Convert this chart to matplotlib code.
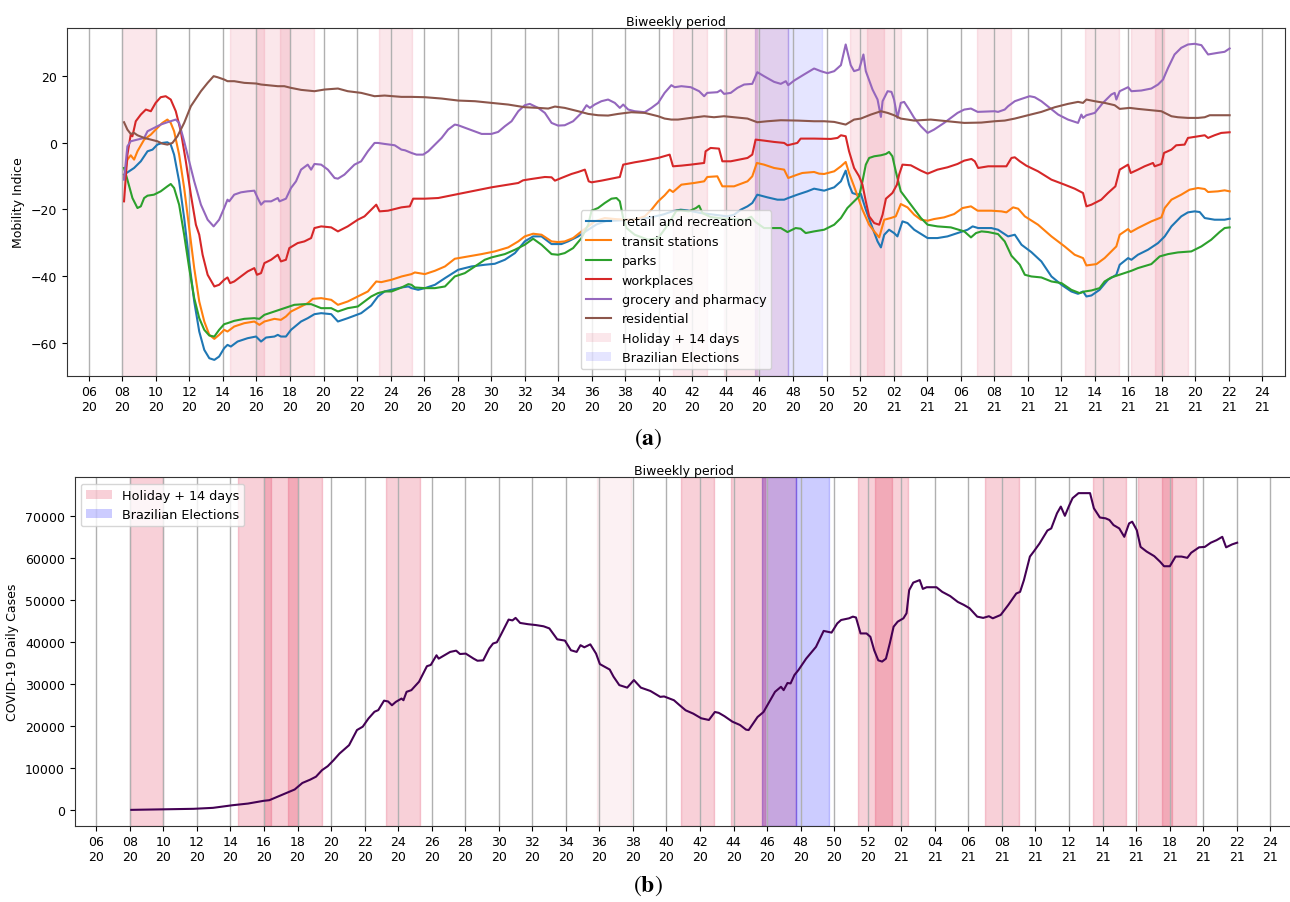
import matplotlib
matplotlib.use("Agg")
import matplotlib.pyplot as plt
from matplotlib.patches import Patch

# ---------------- data (x = days after the 06/20 tick) ----------------
tick_labels = ["06\n20", "08\n20", "10\n20", "12\n20", "14\n20", "16\n20", "18\n20", "20\n20",
               "22\n20", "24\n20", "26\n20", "28\n20", "30\n20", "32\n20", "34\n20", "36\n20",
               "38\n20", "40\n20", "42\n20", "44\n20", "46\n20", "48\n20", "50\n20", "52\n20",
               "02\n21", "04\n21", "06\n21", "08\n21", "10\n21", "12\n21", "14\n21", "16\n21",
               "18\n21", "20\n21", "22\n21", "24\n21"]
tick_days = [14 * i for i in range(len(tick_labels))]

holiday_starts = [14, 59, 70, 80, 121, 244, 265, 278, 318, 325, 371, 416, 435, 445]
minor_holiday_starts = [209]
election_starts = [278, 292]
span_length = 14

retail = [(14.7,-9.6),(16.8,-8.6),(18.9,-7.6),(21.7,-5.6),(24.5,-2.6),(26.6,-2.1),(28.6,-0.6),(30.7,-0.1),
          (32.8,0.1),(34.2,-0.6),(35.6,-3.6),(37.7,-11.6),(39.8,-22.6),(41.9,-35.6),(44.0,-47.6),(46.1,-56.6),
          (48.2,-62.1),(50.3,-64.6),(52.4,-65.1),(54.4,-64.1),(56.5,-61.6),(57.9,-60.6),(59.3,-61.1),(62.1,-59.6),
          (66.3,-58.6),(69.8,-58.1),(71.9,-59.6),(74.0,-58.4),(77.5,-58.1),(78.9,-57.6),(80.2,-58.1),(82.3,-58.1),
          (84.4,-56.1),(88.6,-53.6),(91.4,-52.6),(94.2,-51.4),(97.0,-51.1),(101.2,-51.4),(104.0,-53.6),(108.1,-52.6),
          (113.7,-51.1),(117.9,-48.8),(120.7,-46.1),(123.5,-44.6),(126.3,-44.1),(130.6,-43.4),(133.4,-43.1),
          (134.7,-43.6),(137.5,-44.1),(140.3,-43.6),(144.5,-42.6),(148.7,-40.6),(154.2,-38.1),(159.8,-37.1),
          (165.3,-36.6),(169.5,-36.3),(173.7,-35.1),(177.9,-33.1),(182.0,-29.6),(185.5,-28.1),(189.0,-28.1),
          (193.2,-30.4),(197.3,-30.4),(200.1,-29.6),(204.3,-28.1),(208.5,-26.1),(212.0,-24.5),(216.0,-23.5),
          (222.0,-23.3),(228.0,-23.0),(234.0,-22.5),(240.0,-21.5),(244.0,-20.5),(247.1,-20.1),(249.9,-20.3),
          (255.5,-21.1),(261.0,-21.6),(266.6,-22.1),(269.4,-21.6),(272.2,-20.1),(275.0,-19.1),(277.0,-18.1),
          (279.1,-15.6),(283.3,-16.4),(287.5,-17.1),(290.3,-17.1),(292.0,-16.6),(295.8,-15.6),(300.0,-14.6),
          (302.8,-13.8),(307.0,-14.4),(311.2,-13.4),(314.0,-11.6),(316.0,-8.4),(317.4,-12.6),(318.8,-15.1),
          (320.9,-15.6),(322.3,-15.3),(324.4,-20.1),(327.2,-25.6),(329.3,-29.6),(330.7,-31.4),(332.1,-27.6),
          (334.1,-26.1),(336.2,-27.1),(337.6,-28.1),(339.7,-23.6),(341.8,-24.1),(344.6,-26.1),(350.2,-28.6),
          (354.3,-28.6),(358.5,-28.1),(362.7,-27.1),(366.9,-26.1),(369.0,-25.1),(371.3,-25.6),(376.8,-25.6),
          (379.6,-26.1),(383.8,-28.1),(386.6,-27.6),(389.4,-30.6),(393.5,-32.8),(397.7,-35.6),(401.9,-40.1),
          (406.1,-42.6),(410.2,-44.6),(413.0,-45.3),(415.1,-44.6),(416.5,-46.1),(418.6,-45.8),(422.0,-44.1),
          (425.5,-41.1),(429.0,-39.6),(430.4,-36.6),(433.9,-34.6),(435.3,-35.1),(438.0,-33.6),(442.2,-32.1),
          (446.4,-30.1),(449.2,-28.1),(452.0,-25.1),(456.1,-22.1),(458.9,-20.9),(461.7,-20.6),(463.8,-20.8),
          (465.9,-22.6),(470.0,-23.1),(474.2,-23.1),(476.3,-22.8)]

transit = [(14.7,-10.5),(16.1,-5.1),(17.5,-3.8),(18.9,-5.1),(20.3,-2.6),(23.1,0.9),(25.9,2.4),(28.6,4.4),
           (30.7,5.9),(32.8,6.9),(34.2,5.9),(35.6,3.4),(37.7,-3.6),(39.8,-13.6),(41.9,-25.6),(44.0,-37.6),
           (46.1,-47.6),(48.2,-53.6),(50.3,-57.6),(52.4,-58.8),(54.4,-57.6),(56.5,-56.1),(57.9,-56.6),(60.7,-55.1),
           (64.9,-54.1),(69.1,-53.6),(71.2,-54.6),(73.3,-53.6),(77.5,-52.8),(80.2,-53.1),(82.3,-52.1),(84.4,-50.6),
           (88.6,-49.1),(91.4,-48.1),(93.5,-46.8),(97.0,-46.6),(101.2,-47.1),(104.0,-48.6),(108.1,-47.6),
           (112.3,-46.1),(116.5,-44.6),(120.0,-41.6),(122.1,-41.8),(126.3,-41.1),(130.6,-40.1),(134.7,-39.4),
           (136.1,-38.9),(140.3,-39.4),(144.5,-38.4),(148.7,-37.1),(152.8,-34.8),(158.4,-34.1),(164.0,-33.4),
           (169.5,-32.6),(175.1,-31.4),(179.3,-29.6),(182.0,-28.1),(185.5,-27.3),(189.0,-27.6),(193.2,-29.6),
           (195.9,-29.8),(198.7,-29.6),(202.2,-28.6),(205.7,-26.6),(208.5,-25.1),(211.2,-23.6),(215.4,-22.6),
           (219.6,-22.9),(223.8,-23.1),(227.9,-23.1),(232.1,-22.1),(234.9,-20.1),(237.7,-17.6),(240.4,-15.8),
           (242.5,-14.1),(243.9,-14.8),(247.4,-12.6),(252.7,-12.1),(256.9,-11.6),(258.2,-10.3),(262.4,-10.1),
           (264.5,-13.1),(269.4,-13.1),(275.0,-11.6),(277.0,-10.1),(278.9,-6.1),(281.9,-6.6),(286.1,-7.6),
           (290.3,-8.1),(292.0,-10.6),(295.8,-9.6),(297.9,-9.1),(302.8,-8.8),(304.9,-9.3),(307.0,-9.4),
           (311.2,-8.6),(314.0,-7.1),(316.0,-5.8),(317.4,-9.1),(319.5,-13.1),(323.0,-20.1),(325.8,-24.6),
           (327.9,-26.6),(330.0,-28.4),(332.1,-23.1),(334.8,-22.6),(336.9,-22.1),(339.0,-18.4),(341.8,-19.4),
           (344.6,-21.6),(347.4,-23.1),(350.2,-23.4),(352.9,-22.9),(357.1,-22.4),(361.3,-21.4),(364.8,-19.6),
           (368.3,-19.1),(371.1,-20.4),(376.8,-20.4),(381.0,-20.6),(383.1,-20.9),(385.9,-19.4),(388.0,-19.8),
           (390.8,-22.1),(396.3,-24.6),(401.9,-28.1),(407.4,-31.1),(411.6,-33.6),(415.1,-34.6),(416.5,-36.8),
           (420.7,-36.4),(424.1,-34.6),(426.9,-32.6),(429.0,-31.1),(430.4,-27.6),(433.9,-25.9),(435.0,-26.8),
           (438.0,-25.6),(443.6,-23.6),(447.8,-22.4),(449.2,-19.6),(452.0,-17.1),(456.1,-15.6),(459.6,-14.1),
           (463.1,-13.6),(465.9,-13.9),(467.3,-14.8),(471.4,-14.6),(474.2,-14.3),(476.3,-14.6)]

parks = [(14.7,-7.6),(16.1,-11.1),(18.2,-16.6),(20.3,-19.6),(21.7,-19.1),(23.1,-16.6),(24.5,-15.9),(27.2,-15.6),
         (30.0,-14.6),(32.8,-13.1),(34.2,-12.4),(35.6,-13.6),(37.7,-18.6),(39.8,-27.6),(41.9,-37.6),(44.0,-46.6),
         (46.1,-52.6),(48.2,-56.1),(50.3,-57.8),(52.4,-58.1),(54.4,-56.1),(56.5,-54.4),(57.9,-54.1),(60.7,-53.4),
         (64.9,-52.8),(69.1,-52.6),(71.2,-52.8),(73.3,-51.6),(77.5,-50.6),(81.6,-49.6),(85.8,-48.6),(90.0,-48.4),
         (92.8,-48.4),(97.0,-49.6),(101.2,-49.6),(104.0,-50.6),(108.1,-49.6),(112.3,-49.1),(115.1,-47.6),
         (117.9,-46.1),(120.7,-45.1),(123.5,-44.6),(126.4,-44.6),(130.6,-43.4),(133.4,-42.4),(134.7,-42.6),
         (136.1,-43.4),(140.3,-43.6),(144.5,-43.6),(148.7,-43.1),(152.8,-40.1),(157.0,-39.1),(161.2,-37.1),
         (165.3,-35.1),(168.1,-34.4),(173.7,-33.4),(177.9,-32.1),(182.0,-30.6),(185.5,-28.8),(189.0,-30.6),
         (193.2,-33.4),(195.9,-33.6),(198.7,-33.1),(202.2,-31.6),(205.7,-28.6),(208.5,-24.6),(209.9,-20.4),
         (212.6,-19.6),(215.4,-18.1),(218.2,-16.8),(220.3,-16.6),(221.7,-17.6),(223.1,-22.6),(224.5,-25.6),
         (227.9,-27.6),(233.5,-29.1),(237.7,-28.6),(241.8,-24.6),(245.3,-20.4),(247.1,-20.3),(250.5,-20.6),
         (253.5,-19.6),(254.8,-18.9),(256.2,-21.1),(259.6,-22.3),(265.0,-22.8),(270.0,-23.0),(274.0,-23.2),
         (276.5,-22.2),(278.4,-23.8),(281.9,-25.6),(288.9,-25.6),(291.7,-26.8),(295.1,-25.6),(297.2,-25.8),
         (299.3,-27.1),(302.8,-26.6),(307.0,-26.1),(311.2,-24.6),(314.0,-22.6),(316.7,-19.6),(319.5,-17.6),
         (321.6,-16.1),(323.0,-11.6),(324.4,-6.6),(325.8,-4.6),(327.9,-4.1),(330.7,-3.8),(332.8,-3.4),
         (334.1,-2.8),(335.5,-4.1),(336.9,-8.6),(339.0,-14.6),(343.2,-18.6),(347.4,-22.6),(350.2,-24.6),
         (354.3,-25.1),(359.9,-25.4),(365.5,-26.6),(368.3,-28.4),(370.4,-27.1),(372.7,-26.6),(375.5,-26.8),
         (379.6,-27.4),(382.4,-29.6),(385.2,-33.9),(388.7,-36.6),(390.8,-39.6),(393.5,-40.1),(397.7,-40.4),
         (401.9,-41.6),(406.1,-42.1),(410.2,-44.1),(413.7,-45.1),(415.8,-44.6),(418.6,-44.3),(422.0,-43.6),
         (424.1,-41.6),(426.9,-40.4),(431.1,-39.4),(435.3,-38.4),(438.0,-37.6),(443.6,-36.4),(447.1,-34.1),
         (450.6,-33.4),(454.7,-32.9),(460.3,-32.6),(464.5,-31.1),(468.6,-29.1),(472.1,-26.8),(474.2,-25.6),
         (476.3,-25.4)]

workplaces = [(14.7,-17.6),(16.1,-3.6),(17.5,2.4),(18.2,1.9),(19.6,6.4),(21.7,8.4),(23.8,9.9),(25.9,9.4),
              (27.9,11.9),(30.0,13.6),(32.1,13.9),(34.2,12.9),(36.3,9.4),(38.4,3.4),(40.5,-5.6),(42.6,-15.6),
              (44.7,-24.6),(46.1,-27.6),(47.5,-33.6),(49.6,-39.6),(52.4,-43.1),(54.4,-42.6),(56.5,-41.1),
              (57.9,-40.4),(59.0,-42.1),(60.7,-41.6),(63.5,-40.1),(66.3,-38.6),(69.1,-37.6),(70.2,-39.6),
              (71.9,-39.1),(73.3,-36.1),(76.1,-35.1),(78.9,-33.6),(80.2,-35.6),(82.3,-35.1),(83.7,-31.6),
              (87.2,-30.1),(90.0,-29.6),(92.8,-28.6),(94.2,-25.6),(97.0,-25.1),(101.2,-25.4),(104.0,-26.6),
              (108.1,-25.1),(112.3,-23.1),(115.1,-22.1),(117.9,-20.1),(120.0,-18.6),(121.4,-20.6),(124.9,-20.4),
              (130.5,-19.4),(134.0,-19.1),(135.4,-16.8),(140.3,-16.8),(145.9,-16.6),(149.3,-16.1),(154.2,-15.4),
              (161.2,-14.4),(168.1,-13.4),(175.1,-12.6),(179.3,-12.1),(181.3,-11.3),(184.8,-10.9),(190.4,-10.3),
              (193.2,-10.4),(194.6,-11.4),(197.3,-10.6),(201.5,-9.4),(204.3,-8.8),(207.1,-8.1),(208.7,-11.6),
              (209.9,-11.9),(214.0,-11.4),(218.2,-10.8),(221.7,-10.3),(223.1,-6.6),(227.9,-5.9),(232.1,-5.4),
              (237.7,-4.6),(242.5,-3.6),(243.9,-7.1),(247.4,-6.9),(251.3,-6.6),(256.9,-6.1),(257.5,-2.6),
              (259.6,-1.6),(263.1,-1.8),(264.5,-5.6),(268.0,-5.6),(275.0,-4.6),(277.0,-3.6),(278.4,0.9),
              (281.9,0.6),(286.1,0.2),(290.3,-0.1),(291.7,-0.8),(295.8,-0.1),(297.2,1.2),(302.8,1.2),(309.8,1.1),
              (312.6,1.4),(314.0,2.2),(316.0,1.9),(317.4,-2.6),(319.5,-7.6),(321.6,-10.1),(323.0,-12.6),
              (324.4,-17.6),(325.8,-22.1),(327.9,-24.1),(330.0,-24.6),(331.4,-21.6),(332.8,-16.8),(335.5,-15.1),
              (337.4,-12.6),(338.3,-9.6),(339.7,-6.6),(343.2,-6.8),(347.4,-8.4),(350.2,-9.3),(354.3,-8.1),
              (358.5,-7.4),(362.7,-6.4),(365.5,-5.4),(368.5,-4.9),(369.9,-5.6),(371.3,-7.6),(375.5,-7.1),
              (379.6,-7.1),(383.1,-7.1),(385.2,-4.6),(386.6,-4.4),(388.7,-5.6),(391.4,-6.9),(396.3,-8.6),
              (401.9,-11.1),(407.4,-12.6),(411.6,-13.8),(415.1,-15.1),(416.5,-19.1),(418.6,-18.6),(422.7,-17.1),
              (425.5,-15.1),(428.6,-13.1),(430.4,-8.1),(433.9,-6.6),(435.0,-9.1),(438.0,-8.1),(440.8,-7.1),
              (444.3,-6.1),(445.0,-7.1),(447.8,-6.4),(448.9,-3.1),(452.0,-2.1),(454.0,-0.8),(457.5,-0.6),
              (458.9,1.4),(463.1,1.9),(465.9,2.2),(467.3,1.4),(470.0,2.2),(472.8,2.9),(476.3,3.1)]

grocery = [(14.7,-11.1),(16.1,-1.1),(17.5,0.4),(20.3,0.9),(23.1,1.4),(24.5,3.4),(27.2,4.4),(30.0,5.4),
           (32.8,6.1),(36.3,6.9),(37.7,5.9),(39.8,0.4),(41.9,-5.6),(44.0,-11.6),(46.8,-18.6),(49.6,-23.1),
           (52.1,-25.1),(54.4,-23.1),(56.5,-19.6),(57.9,-17.1),(58.6,-17.6),(60.7,-15.6),(63.5,-14.9),
           (66.3,-14.6),(69.1,-14.4),(70.5,-16.6),(71.9,-18.6),(73.3,-17.6),(76.1,-17.6),(78.9,-16.6),
           (79.6,-17.6),(82.3,-16.8),(84.4,-13.6),(86.5,-11.6),(88.6,-8.1),(91.4,-6.6),(92.8,-8.1),(94.2,-6.4),
           (97.0,-6.6),(99.8,-8.1),(102.6,-10.6),(104.0,-10.8),(106.7,-9.6),(110.9,-6.6),(113.7,-5.6),
           (116.5,-2.6),(119.3,-0.1),(120.7,-0.1),(123.5,-0.4),(127.7,-0.8),(130.5,-2.1),(132.0,-2.3),
           (134.7,-3.1),(136.8,-3.6),(139.6,-3.6),(141.7,-2.6),(144.5,-0.6),(147.3,1.4),(150.0,3.9),(152.8,5.4),
           (154.2,5.2),(158.4,4.1),(164.0,2.6),(168.1,2.6),(170.9,3.2),(173.7,4.9),(176.5,6.4),(179.3,9.4),
           (182.0,11.2),(184.1,11.6),(187.6,10.4),(190.4,8.9),(193.2,5.9),(195.9,5.1),(198.7,5.2),(202.2,6.4),
           (205.7,8.9),(207.8,11.2),(209.2,10.4),(211.2,11.4),(214.0,12.4),(216.8,12.9),(219.6,11.9),
           (221.7,10.4),(223.1,11.4),(225.2,9.9),(227.9,9.4),(232.1,9.1),(234.9,10.4),(237.7,11.9),(240.4,14.9),
           (243.2,17.2),(244.6,16.6),(247.4,16.9),(251.3,16.6),(254.8,15.4),(256.9,13.9),(258.2,14.9),
           (262.4,15.1),(263.8,15.7),(265.2,14.6),(268.0,14.9),(270.8,16.4),(273.6,17.4),(277.0,17.6),
           (279.1,21.1),(281.9,19.9),(286.1,18.2),(288.9,17.6),(291.0,18.4),(292.0,17.2),(294.5,18.6),
           (298.6,20.4),(302.8,22.2),(305.6,21.4),(308.4,20.8),(311.2,21.4),(314.0,23.2),(316.0,29.4),
           (318.1,23.2),(319.5,21.4),(321.6,21.9),(323.4,26.4),(324.4,21.4),(327.2,15.9),(329.3,12.9),
           (330.7,7.7),(331.4,12.4),(333.5,15.4),(335.1,15.2),(336.2,12.9),(337.6,7.4),(339.0,11.9),(340.4,12.2),
           (342.5,9.9),(344.6,7.4),(347.4,4.9),(350.2,2.9),(352.9,3.9),(357.1,5.9),(359.9,7.4),(362.7,8.9),
           (365.5,9.9),(368.3,10.2),(371.1,9.2),(378.2,9.4),(379.6,9.2),(382.4,9.9),(383.8,10.9),(386.6,12.4),
           (389.4,13.1),(392.8,13.9),(394.9,13.6),(397.7,12.4),(401.2,10.4),(404.7,8.4),(408.8,6.9),(413.0,5.9),
           (414.4,8.4),(415.1,7.4),(416.5,8.2),(420.0,8.9),(423.4,11.9),(426.9,14.4),(428.3,14.9),(429.0,12.9),
           (430.4,15.4),(433.9,16.6),(435.3,15.4),(439.4,15.6),(443.6,16.2),(446.4,17.4),(448.5,18.9),
           (450.6,22.4),(453.3,26.4),(456.1,28.4),(458.9,29.4),(461.7,29.6),(464.5,29.2),(467.3,26.4),
           (471.4,26.9),(474.2,27.2),(476.3,28.2)]

residential = [(14.7,6.1),(16.1,3.9),(17.5,2.6),(18.9,2.9),(20.3,2.2),(23.1,1.4),(25.9,0.9),(28.6,0.4),
               (30.7,-0.3),(32.8,-0.6),(34.9,-0.1),(37.0,1.9),(39.8,5.9),(42.6,10.9),(46.8,15.4),(49.6,17.9),
               (52.1,19.9),(53.7,19.6),(56.5,18.9),(57.9,18.4),(60.7,18.4),(64.9,17.9),(69.9,17.7),(71.9,17.4),
               (74.7,17.2),(78.9,16.9),(81.6,16.9),(84.4,16.4),(88.6,15.8),(94.2,15.4),(98.4,15.9),(104.0,16.2),
               (108.1,15.4),(113.7,14.9),(119.3,13.9),(123.5,14.1),(130.5,13.7),(134.7,13.7),(140.3,13.6),
               (147.3,13.2),(154.2,12.6),(161.2,12.4),(168.1,11.9),(175.1,11.4),(182.0,10.6),(187.6,10.4),
               (191.8,10.2),(194.6,10.8),(198.7,10.4),(204.3,9.4),(208.5,8.6),(212.6,8.2),(216.8,8.1),
               (221.0,8.6),(226.5,9.1),(232.1,8.9),(237.7,7.9),(240.4,7.2),(243.2,6.9),(246.0,6.9),(251.3,7.4),
               (256.9,7.9),(261.0,7.6),(265.2,7.9),(269.4,7.6),(275.0,7.2),(279.1,6.1),(283.3,6.4),(288.9,6.7),
               (295.8,6.6),(302.8,6.4),(307.0,6.4),(311.2,6.2),(316.0,5.4),(319.5,6.9),(322.3,7.2),(326.5,8.4),
               (330.7,9.4),(333.5,8.9),(336.2,8.2),(339.0,7.2),(344.6,6.6),(351.5,6.9),(358.5,6.4),(365.5,5.9),
               (372.6,6.0),(378.2,6.4),(382.4,6.6),(386.6,7.2),(392.1,8.2),(397.7,9.2),(403.3,10.6),(408.8,11.6),
               (413.0,12.2),(415.1,11.9),(416.5,12.9),(420.0,12.4),(424.1,11.9),(428.3,11.2),(430.4,10.1),
               (434.6,10.4),(438.0,10.1),(443.6,9.7),(447.8,9.4),(452.0,7.9),(454.7,7.6),(458.9,7.4),(463.1,7.4),
               (465.9,7.6),(468.0,8.2),(472.8,8.2),(476.3,8.2)]

cases = [(14.6,0),(40.6,250),(48.7,480),(56.8,1100),(63.3,1500),(69.8,2150),(72.2,2300),(74.7,2900),
         (79.5,4050),(82.8,4850),(86.0,6400),(89.3,7200),(91.7,7900),(94.2,9450),(96.6,10400),(99.0,11800),
         (101.5,13400),(105.5,15400),(108.8,19000),(111.2,19800),(113.6,21750),(116.1,23350),(117.7,23750),
         (120.1,26000),(121.8,25800),(123.4,24900),(125.0,25700),(127.4,26500),(128.2,26100),(129.5,28100),
         (131.5,28500),(134.7,30500),(138.0,34200),(139.6,34500),(142.0,36800),(142.9,36000),(145.3,36800),
         (147.7,37600),(150.2,37900),(151.8,37100),(154.2,37200),(157.5,36000),(159.1,35500),(161.5,35600),
         (164.0,38400),(165.6,39600),(167.2,39900),(168.8,41600),(172.1,45300),(173.7,45100),(175.0,45700),
         (176.9,44500),(180.2,44200),(183.4,44000),(186.7,43700),(189.1,43200),(192.4,40600),(195.6,40300),
         (198.1,38000),(200.5,37600),(202.1,39200),(203.7,38700),(206.2,39400),(208.6,37200),(210.2,34700),
         (214.3,33400),(215.9,31700),(218.3,29700),(221.6,29100),(224.4,30900),(227.3,29100),(231.3,28300),
         (235.4,26900),(237.0,27000),(241.1,26100),(243.5,24900),(246.0,23700),(249.2,22900),(252.5,21800),
         (255.7,21400),(258.2,23300),(259.8,23100),(262.2,22300),(265.5,21000),(268.7,20200),(271.2,19100),
         (272.3,19000),(273.6,20100),(276.0,22100),(278.5,23300),(280.9,25700),(283.3,28100),(285.8,29300),
         (286.9,28500),(288.5,30200),(289.8,30100),(291.4,32100),(293.1,33300),(296.3,36000),(300.4,38800),
         (303.6,42600),(306.9,42200),(309.3,44400),(310.9,45200),(314.2,45600),(315.8,46000),(317.1,45800),
         (319.0,42000),(321.5,42000),(323.1,41200),(324.7,38000),(326.4,35600),(328.0,35300),(329.6,36000),
         (331.2,39600),(332.8,43600),(334.5,44800),(336.9,45600),(338.2,46800),(339.3,52300),(341.0,54100),
         (343.7,54700),(345.0,52600),(346.6,53000),(350.7,53000),(353.1,51900),(356.4,50900),(359.6,49500),
         (362.1,48800),(364.5,48000),(367.7,46000),(370.2,45700),(372.6,46100),(374.2,45600),(377.5,46400),
         (380.7,48800),(384.0,51500),(385.6,51900),(387.2,54700),(389.7,60300),(391.3,61500),(393.7,63400),
         (397.0,66500),(398.6,67000),(401.0,70600),(402.6,72200),(404.3,70000),(405.9,72200),(407.5,74200),
         (410.0,75400),(414.8,75400),(416.4,71800),(418.9,69600),(421.3,69400),(422.9,69000),(424.6,67800),
         (427.0,67000),(429.1,65000),(431.1,68200),(432.4,68600),(434.3,66600),(435.9,62600),(438.4,61500),
         (441.6,60400),(444.0,59100),(445.7,58000),(448.1,58000),(450.5,60300),(453.0,60300),(455.4,60000),
         (457.0,61200),(460.3,62500),(462.7,62600),(465.2,63600),(467.6,64200),(470.0,65000),(471.6,62500),
         (474.1,63200),(476.2,63600)]

mobility_series = [("retail and recreation", retail, "#1f77b4"),
                   ("transit stations", transit, "#ff7f0e"),
                   ("parks", parks, "#2ca02c"),
                   ("workplaces", workplaces, "#d62728"),
                   ("grocery and pharmacy", grocery, "#9467bd"),
                   ("residential", residential, "#8c564b")]

# ---------------- style ----------------
plt.rcParams["font.family"] = ["DejaVu Sans"]
plt.rcParams["font.size"] = 9
plt.rcParams["mathtext.fontset"] = "stix"
plt.rcParams["axes.edgecolor"] = "#333333"

W, H = 1290, 903
fig = plt.figure(figsize=(W / 100, H / 100), dpi=100)
ax1 = fig.add_axes([67 / W, 1 - 376.7 / H, 1218 / W, 347.7 / H])
ax2 = fig.add_axes([74.5 / W, 1 - 826.7 / H, 1218 / W, 348.4 / H])

HOL = "crimson"
ELE = "blue"


def spans(ax, a_hol, a_ele, a_minor=None):
    for s in holiday_starts:
        ax.axvspan(s, s + span_length, color=HOL, alpha=a_hol)
    if a_minor is not None:
        for s in minor_holiday_starts:
            ax.axvspan(s, s + span_length, color=HOL, alpha=a_minor)
    for s in election_starts:
        ax.axvspan(s, s + span_length, color=ELE, alpha=a_ele)


def style(ax):
    ax.set_xticks(tick_days)
    ax.set_xticklabels(tick_labels)
    ax.grid(axis="x", color="#b0b0b0", linewidth=1.0)
    ax.set_title("Biweekly period", fontsize=9, pad=2)
    ax.tick_params(length=3.5)


# ---------------- (a) mobility ----------------
spans(ax1, 0.1, 0.1)
handles = []
for name, data, col in mobility_series:
    xs = [p[0] for p in data]
    ys = [p[1] for p in data]
    ln, = ax1.plot(xs, ys, color=col, lw=1.5, label=name)
    handles.append(ln)
handles.append(Patch(facecolor=HOL, alpha=0.1, label="Holiday + 14 days"))
handles.append(Patch(facecolor=ELE, alpha=0.1, label="Brazilian Elections"))
style(ax1)
ax1.set_ylabel("Mobility Indice")
ax1.legend(handles=handles, loc="lower center", fontsize=9.2)

# ---------------- (b) cases ----------------
spans(ax2, 0.2, 0.2, a_minor=0.06)
ax2.plot([p[0] for p in cases], [p[1] for p in cases], color="#440154", lw=1.5)
style(ax2)
ax2.set_ylabel("COVID-19 Daily Cases")
ax2.legend(handles=[Patch(facecolor=HOL, alpha=0.2, label="Holiday + 14 days"),
                    Patch(facecolor=ELE, alpha=0.2, label="Brazilian Elections")],
           loc="upper left", fontsize=9.2)

# captions
fig.text(648 / W, 1 - 439 / H, r"($\mathbf{a}$)", family="STIXGeneral", fontsize=17,
         ha="center", va="center")
fig.text(648 / W, 1 - 886 / H, r"($\mathbf{b}$)", family="STIXGeneral", fontsize=17,
         ha="center", va="center")

fig.savefig("out.png", dpi=100)
